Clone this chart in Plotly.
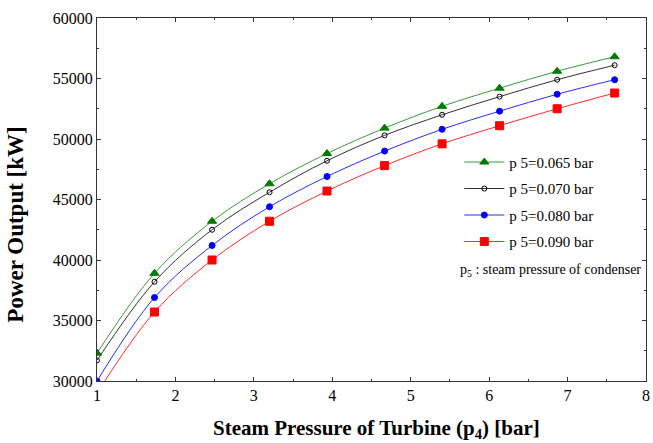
import plotly.graph_objects as go

p4 = [1.0, 1.733, 2.467, 3.2, 3.933, 4.667, 5.4, 6.133, 6.867, 7.6]
p065 = [32300, 38900, 43200, 46300, 48800, 50900, 52700, 54200, 55600, 56800]
p070 = [31700, 38200, 42500, 45600, 48200, 50300, 52000, 53500, 54900, 56100]
p080 = [30000, 36900, 41200, 44400, 46900, 49000, 50800, 52300, 53700, 54900]
p090 = [29000, 35700, 40000, 43200, 45700, 47800, 49600, 51100, 52500, 53800]

names = ["p 5=0.065 bar", "p 5=0.070 bar", "p 5=0.080 bar", "p 5=0.090 bar"]
series = [p065, p070, p080, p090]
line_colors = ["#3a9a3a", "#333333", "#2a2aff", "#ff2a2a"]
marker_colors = ["#007a00", "#000000", "#0000ff", "#ff0000"]
symbols = ["triangle-up", "circle-open", "circle", "square"]
sizes = [8, 5, 6, 8]

fig = go.Figure()
for i in range(4):
    fig.add_trace(go.Scatter(
        x=p4, y=series[i], name=names[i], mode="lines+markers",
        line=dict(color=line_colors[i], width=1, shape="spline"),
        marker=dict(symbol=symbols[i], color=marker_colors[i], size=sizes[i],
                    line=dict(color=marker_colors[i], width=1)),
        legendgroup=str(i),
    ))

font = "Liberation Serif, Times New Roman, serif"
fig.update_layout(
    width=653, height=443,
    margin=dict(l=97, r=7, t=18, b=62, autoexpand=False),
    plot_bgcolor="white", paper_bgcolor="white",
    font=dict(family=font, size=15, color="black"),
    showlegend=True,
    legend=dict(x=0.66, y=0.648, xanchor="left", yanchor="top",
                bgcolor="rgba(0,0,0,0)", font=dict(family=font, size=15),
                tracegroupgap=4, itemwidth=40),
    annotations=[
        dict(x=0.658, y=0.305, xref="paper", yref="paper", xanchor="left", yanchor="middle",
             text="p<sub>5</sub> : steam pressure of condenser", showarrow=False,
             font=dict(family=font, size=14)),
        dict(x=0.51, y=-0.133, xref="paper", yref="paper", xanchor="center", yanchor="middle",
             text="<b>Steam Pressure of Turbine (p<sub>4</sub>) [bar]</b>", showarrow=False,
             font=dict(family=font, size=21)),
        dict(x=-0.148, y=0.43, xref="paper", yref="paper", xanchor="center", yanchor="middle",
             text="<b>Power Output [kW]</b>", showarrow=False, textangle=-90,
             font=dict(family=font, size=23)),
    ],
)
fig.update_xaxes(
    range=[1, 8], dtick=1, tick0=1,
    showline=True, linecolor="#333", linewidth=1, mirror="ticks",
    ticks="inside", ticklen=4, tickcolor="#333",
    minor=dict(ticks="inside", ticklen=2, dtick=0.5, tickcolor="#333"),
    showgrid=False, zeroline=False,
    tickfont=dict(family=font, size=16),
)
fig.update_yaxes(
    range=[30000, 60000], dtick=5000, tickformat="d",
    showline=True, linecolor="#333", linewidth=1, mirror="ticks",
    ticks="inside", ticklen=4, tickcolor="#333",
    minor=dict(ticks="inside", ticklen=2, dtick=2500, tickcolor="#333"),
    showgrid=False, zeroline=False,
    tickfont=dict(family=font, size=16),
)
fig.write_html("out.html", config={"displayModeBar": False})

with open("out.html", "r", encoding="utf-8") as f:
    html = f.read()
html = html.replace("<head>", "<head><style>html,body{margin:0;padding:0;overflow:hidden;}</style>", 1)
with open("out.html", "w", encoding="utf-8") as f:
    f.write(html)
